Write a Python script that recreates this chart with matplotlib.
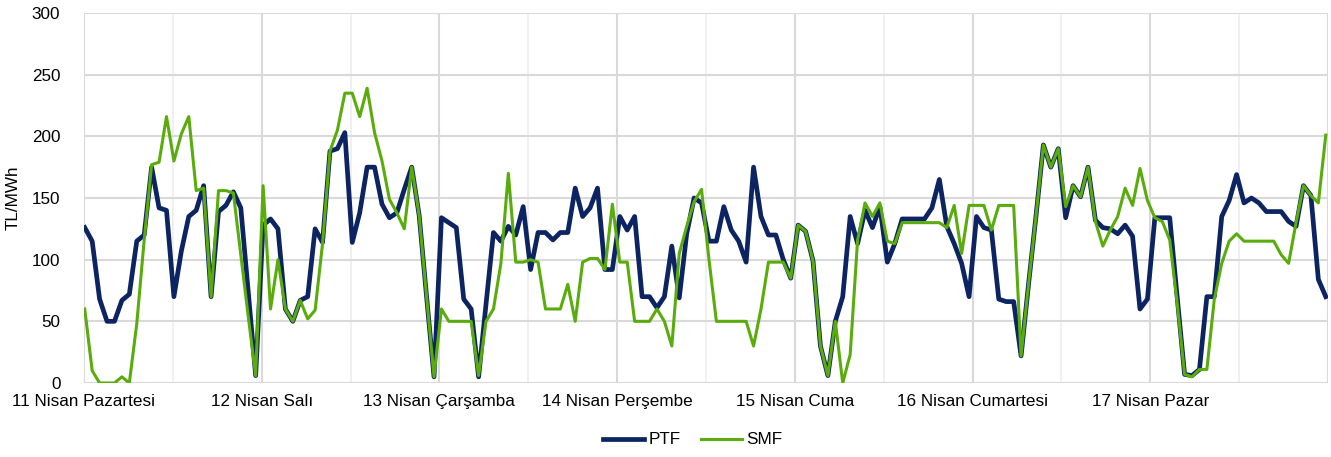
import numpy as np
import matplotlib
matplotlib.use("Agg")
import matplotlib.pyplot as plt

plt.rcParams['font.family'] = ['Liberation Sans', 'DejaVu Sans']

# hourly prices, 11-17 Nisan (24 values per day)
days = ['11 Nisan Pazartesi', '12 Nisan Salı', '13 Nisan Çarşamba', '14 Nisan Perşembe',
        '15 Nisan Cuma', '16 Nisan Cumartesi', '17 Nisan Pazar']

ptf = [126, 115, 68, 50, 50, 67, 72, 115, 120, 175, 142, 140, 70, 107, 135, 140, 160, 70, 139, 144, 155, 142, 74, 6,
       128, 133, 125, 60, 50, 67, 70, 125, 114, 188, 190, 203, 114, 138, 175, 175, 145, 134, 138, 157, 175, 136, 70, 5,
       134, 130, 126, 68, 60, 5, 64, 122, 115, 127, 120, 143, 92, 122, 122, 116, 122, 122, 158, 135, 142, 158, 92, 92,
       135, 124, 135, 70, 70, 61, 70, 111, 69, 121, 150, 146, 115, 115, 143, 124, 115, 98, 175, 135, 120, 120, 100, 85,
       128, 123, 99, 30, 6, 50, 70, 135, 113, 140, 126, 143, 98, 113, 133, 133, 133, 133, 142, 165, 127, 113, 97, 70,
       135, 126, 124, 68, 66, 66, 22, 80, 135, 193, 175, 190, 134, 160, 151, 175, 132, 126, 125, 121, 128, 119, 60, 68,
       134, 134, 134, 70, 7, 6, 11, 70, 70, 135, 148, 169, 146, 150, 146, 139, 139, 139, 131, 127, 160, 152, 84, 70]

smf = [60, 10, 0, 0, 0, 5, 0, 48, 116, 177, 179, 216, 180, 202, 216, 156, 158, 70, 156, 156, 154, 104, 54, 6,
       160, 60, 100, 60, 50, 67, 52, 59, 113, 188, 205, 235, 235, 216, 239, 203, 180, 149, 138, 125, 175, 136, 70, 5,
       60, 50, 50, 50, 50, 6, 50, 60, 97, 170, 98, 98, 100, 98, 60, 60, 60, 80, 50, 98, 101, 101, 92, 145,
       98, 98, 50, 50, 50, 60, 50, 30, 105, 127, 147, 157, 100, 50, 50, 50, 50, 50, 30, 60, 98, 98, 98, 85,
       128, 123, 99, 30, 6, 50, 0, 23, 116, 146, 135, 146, 115, 113, 130, 130, 130, 130, 130, 130, 126, 144, 105, 144,
       144, 144, 124, 144, 144, 144, 22, 80, 135, 193, 175, 190, 143, 160, 151, 175, 131, 111, 124, 135, 158, 144, 174, 148,
       134, 131, 116, 65, 7, 5, 11, 11, 68, 97, 115, 121, 115, 115, 115, 115, 115, 104, 97, 130, 160, 152, 146, 201]

hours = np.arange(len(ptf))

fig = plt.figure(figsize=(13.31, 4.57), dpi=100)
ax = fig.add_axes([84 / 1331, 1 - 383 / 457, 1244 / 1331, 370 / 457])

xmin, xmax = -0.1, 167.3
ax.set_xlim(xmin, xmax)
ax.set_ylim(0, 300)

# half-day grid, day lines a bit darker
grid_x = np.linspace(xmin, xmax, 2 * len(days) + 1)
for k, gx in enumerate(grid_x):
    ax.axvline(gx, color='#d9d9d9' if k % 2 == 0 else '#ededed',
               lw=1.5 if k % 2 == 0 else 1.2, zorder=0)
for gy in range(0, 301, 50):
    ax.axhline(gy, color='#d9d9d9', lw=1.5, zorder=0)

ax.plot(hours, ptf, color='#0c2461', lw=3.4, label='PTF', solid_joinstyle='round', zorder=3)
ax.plot(hours, smf, color='#5aab0c', lw=2.2, label='SMF', solid_joinstyle='round', zorder=4)

ax.set_xticks(grid_x[:-1:2])
ax.set_xticklabels(days)
ax.set_yticks(range(0, 301, 50))
ax.tick_params(axis='both', length=0, labelsize=12.3, colors='#000000')
ax.tick_params(axis='y', pad=17)
ax.tick_params(axis='x', pad=8)
ax.set_ylabel('TL/MWh', fontsize=12.3, labelpad=8)

for s in ax.spines.values():
    s.set_visible(False)

fig.legend(loc='center', bbox_to_anchor=(693 / 1331, 1 - 440 / 457), ncol=2, frameon=False,
           fontsize=12.3, handlelength=2.4, handletextpad=0.25, columnspacing=1.2)

fig.savefig('out.png', dpi=100)
